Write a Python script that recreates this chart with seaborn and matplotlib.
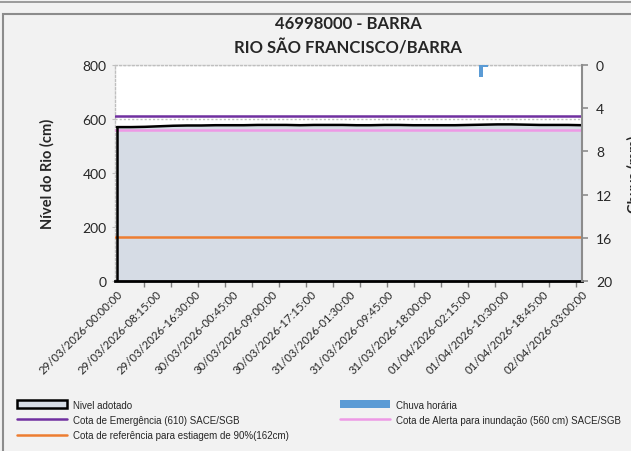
import matplotlib
matplotlib.use("Agg")
import matplotlib.pyplot as plt
import matplotlib.patches as mpatches
import matplotlib.lines as mlines
import pandas as pd
import seaborn as sns

# Data (hours since 29/03/2026 00:00)
level_hours = [0, 3, 6, 9, 12, 15, 18, 21, 24, 27, 30, 33, 36, 39, 42, 45, 48,
               51, 54, 57, 60, 63, 66, 69, 72, 75, 78, 81, 84, 87, 90, 93, 96, 99]
level_cm = [570, 570, 571, 573, 575, 576, 576, 577, 577, 577, 578, 578, 578, 577,
            578, 578, 578, 577, 577, 578, 578, 577, 577, 577, 577, 578, 579, 580,
            580, 579, 578, 578, 578, 577]
rain_hours = [77, 78]
rain_mm = [1.1, 0.2]
cota_emergencia = 610
cota_alerta = 560
cota_estiagem = 162
tick_labels = ["29/03/2026-00:00:00", "29/03/2026-08:15:00", "29/03/2026-16:30:00",
               "30/03/2026-00:45:00", "30/03/2026-09:00:00", "30/03/2026-17:15:00",
               "31/03/2026-01:30:00", "31/03/2026-09:45:00", "31/03/2026-18:00:00",
               "01/04/2026-02:15:00", "01/04/2026-10:30:00", "01/04/2026-18:45:00",
               "02/04/2026-03:00:00"]
tick_hours = [i * 8.25 for i in range(len(tick_labels))]

df = pd.DataFrame({"hora": level_hours, "nivel": level_cm})

sns.set_style("white")
plt.rcParams['font.family'] = ['Lato', 'DejaVu Sans']

fig = plt.figure(figsize=(6.31, 4.52), dpi=100)
fig.patch.set_facecolor("#f2f2f2")
ax = fig.add_axes([115 / 631, 170 / 452, 467 / 631, 216 / 452])
ax.set_facecolor("white")

# frame of the chart area
fig.add_artist(mpatches.Rectangle((3 / 631, -0.01), 0.999, 442 / 452, transform=fig.transFigure,
                                  fill=False, edgecolor="#8c8c8c", lw=1.5))
fig.add_artist(mlines.Line2D([0, 1], [449 / 452, 449 / 452], transform=fig.transFigure,
                             color="#8c8c8c", lw=1.2))

# grid
ax.set_ylim(0, 800)
ax.set_yticks([0, 200, 400, 600, 800])
ax.yaxis.grid(True, color="#bfbfbf", linestyle=(0, (1.5, 1.5)), lw=1)
ax.set_axisbelow(True)

# area + line
ax.fill_between(df["hora"], df["nivel"], color="#d6dce5", zorder=2)
sns.lineplot(data=df, x="hora", y="nivel", ax=ax, color="black", lw=1.8, zorder=4)
ax.plot([level_hours[0], level_hours[0]], [0, level_cm[0]], color="black", lw=1.8, zorder=4)

ax.axhline(cota_emergencia, color="#7030a0", lw=1.8, zorder=3)
ax.axhline(cota_alerta, color="#ee99e6", lw=1.8, zorder=3)
ax.axhline(cota_estiagem, color="#ed7d31", lw=1.8, zorder=3)

ax.set_xlim(-0.4, 99)
ax.set_xticks(tick_hours)
ax.set_xticklabels(tick_labels, rotation=45, ha="right", rotation_mode="anchor", fontsize=8.2)
ax.set_xticks([i * 5.75 for i in range(18)], minor=True)
ax.tick_params(axis="x", which="major", length=0, pad=5)
ax.tick_params(axis="x", which="minor", length=4, color="#7f7f7f", width=1, direction="out",
               bottom=True)
ax.tick_params(axis="y", which="major", length=2, color="#bfbfbf", labelsize=10, pad=4, left=True)
ax.set_xlabel("")
ax.set_ylabel("Nível do Rio (cm)", fontsize=10.5, fontweight="bold", labelpad=20)

for side in ["left", "top"]:
    ax.spines[side].set_color("#bfbfbf")
    ax.spines[side].set_linestyle((0, (1.5, 1.5)))
    ax.spines[side].set_linewidth(1)
ax.spines["right"].set_visible(False)
ax.spines["bottom"].set_color("black")
ax.spines["bottom"].set_linewidth(2)

# rain on inverted secondary axis
ax2 = ax.twinx()
ax2.bar(rain_hours, rain_mm, width=1.0, color="#5b9bd5", edgecolor="none", linewidth=0,
        align="edge", zorder=5)
ax2.set_ylim(20, 0)
ax2.set_yticks([0, 4, 8, 12, 16, 20])
ax2.tick_params(axis="y", length=4, color="#8c8c8c", width=1.2, labelsize=10, pad=6, right=True)
ax2.set_ylabel("Chuva (mm)", fontsize=10.5, fontweight="bold", rotation=90, labelpad=11)
for side in ["left", "top", "bottom"]:
    ax2.spines[side].set_visible(False)
ax2.spines["right"].set_color("#8c8c8c")
ax2.spines["right"].set_linewidth(1.5)

fig.text(348 / 631, 1 - 24 / 452, "46998000 - BARRA", ha="center", va="center",
         fontsize=12, fontweight="bold")
fig.text(348 / 631, 1 - 48 / 452, "RIO SÃO FRANCISCO/BARRA", ha="center", va="center",
         fontsize=12, fontweight="bold")

# legend
handles = [
    mpatches.Patch(facecolor="#d6dce5", edgecolor="black", lw=1.8, label="Nivel adotado"),
    mlines.Line2D([], [], color="#7030a0", lw=1.8, label="Cota de Emergência (610) SACE/SGB"),
    mlines.Line2D([], [], color="#ed7d31", lw=1.8,
                  label="Cota de referência para estiagem de 90%(162cm)"),
    mpatches.Patch(facecolor="#5b9bd5", edgecolor="none", label="Chuva horária"),
    mlines.Line2D([], [], color="#ee99e6", lw=1.8,
                  label="Cota de Alerta para inundação (560 cm) SACE/SGB"),
]
leg = fig.legend(handles=handles, ncol=2, loc="upper left", bbox_to_anchor=(8 / 631, 1 - 392 / 452),
                 frameon=False, handlelength=5.2, handleheight=0.9,
                 columnspacing=5.2, labelspacing=0.55, handletextpad=0.6,
                 prop={"family": ["Liberation Sans Narrow", "Liberation Sans"], "size": 7})

fig.savefig("out.png", dpi=100, facecolor=fig.get_facecolor())
